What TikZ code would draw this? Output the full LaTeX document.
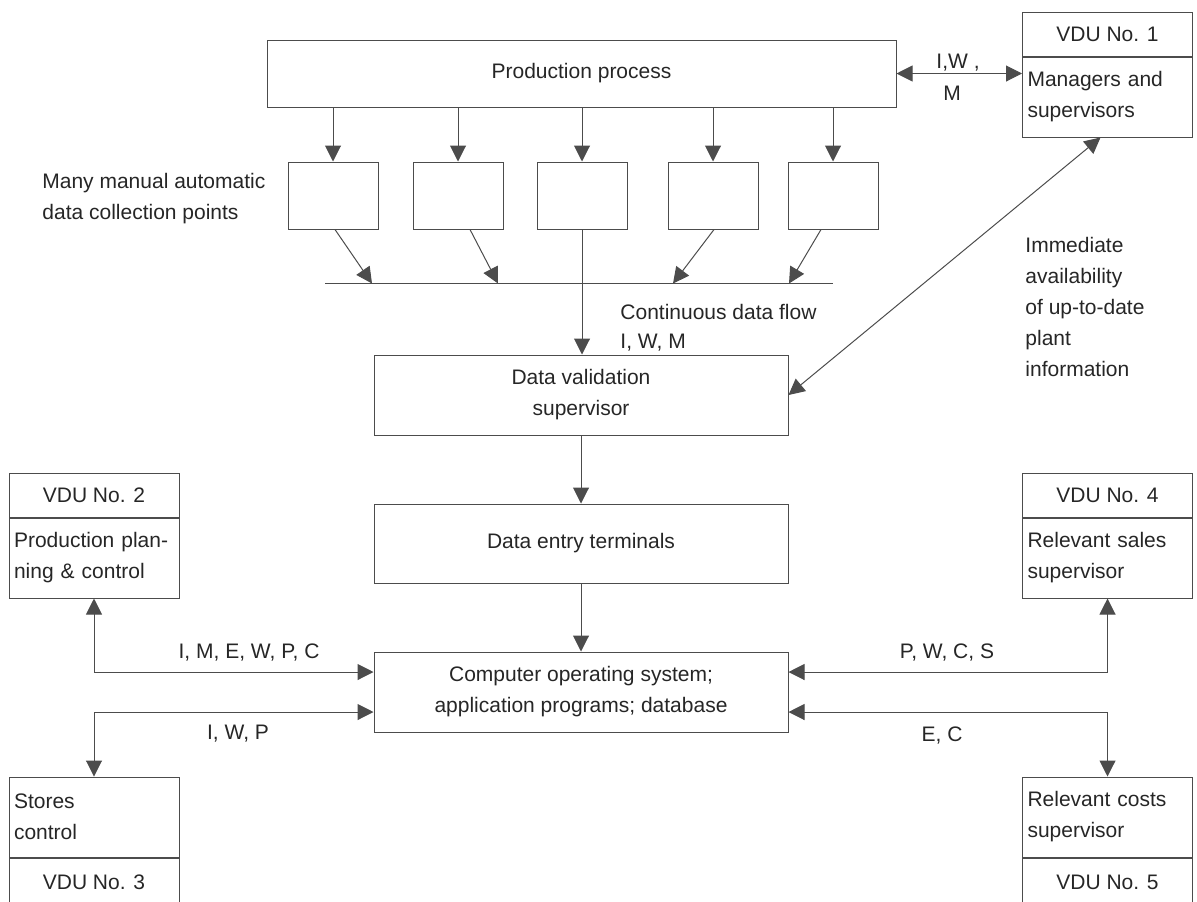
\documentclass[tikz,border=0pt]{standalone}
\usepackage{fontspec}
\setmainfont{Liberation Sans}
\usetikzlibrary{
    arrows.meta,        % frecce piene
    positioning         % nodi uno sotto l'altro
}

\tikzset{
    box/.style={draw=black!70, line width=0.5pt, inner sep=0pt, align=center},
    smallbox/.style={box, minimum width=45pt, minimum height=33.5pt},
    widebox/.style={box, minimum width=207pt, minimum height=40pt},
    vduhead/.style={box, minimum width=85pt, minimum height=22pt},
    vdubody/.style={box, text width=80pt, inner xsep=2.5pt, minimum height=40pt, align=left},
    lbl/.style={inner sep=0pt},
    line/.style={draw=black!70, line width=0.5pt},
    link/.style={line, -{Triangle[length=8pt,width=8pt]}},
    link2/.style={line, {Triangle[length=8pt,width=8pt]}-{Triangle[length=8pt,width=8pt]}}
}

\begin{document}
\begin{tikzpicture}[x=0.5pt, y=-0.5pt,
    every node/.style={font=\fontsize{10.5}{15.5}\selectfont, text=black!85}]

        \useasboundingbox (0,0) rectangle (1197,901);

        % Processo di produzione
        \node[box, minimum width=314.5pt, minimum height=33.5pt] (prod) at (581.5,73.5) {Production process};

        % Punti di raccolta dati
        \foreach \n/\x in {1/333, 2/458, 3/582, 4/713, 5/833}
            \node[smallbox] (c\n) at (\x,195.5) {};
        \node[lbl, anchor=west, align=left] (many) at (42,199) {Many manual automatic\\data collection points};

        \coordinate (busL) at (325,283);
        \coordinate (busR) at (833,283);

        % Colonna centrale
        \node[widebox] (valid) at (581,395) {Data validation\\supervisor};
        \node[widebox, minimum height=39.5pt] (entry) at (581,543.5) {Data entry terminals};
        \node[widebox] (comp) at (581,692) {Computer operating system;\\application programs; database};

        % Terminali VDU
        \node[vduhead] (vdu1h) at (1107.5,34) {VDU No. 1};
        \node[vdubody, below=0pt of vdu1h] (vdu1b) {Managers and\\supervisors};

        \node[vduhead] (vdu2h) at (94,495) {VDU No. 2};
        \node[vdubody, below=0pt of vdu2h] (vdu2b) {Production plan-\\ning \& control};

        \node[vdubody] (vdu3b) at (94,817) {Stores\\control};
        \node[vduhead, below=0pt of vdu3b, minimum height=24pt] (vdu3f) {VDU No. 3};

        \node[vduhead] (vdu4h) at (1107.5,495) {VDU No. 4};
        \node[vdubody, below=0pt of vdu4h] (vdu4b) {Relevant sales\\supervisor};

        \node[vdubody] (vdu5b) at (1107.5,817) {Relevant costs\\supervisor};
        \node[vduhead, below=0pt of vdu5b, minimum height=24pt] (vdu5f) {VDU No. 5};

        % Etichette
        \node[lbl] (iw) at (958,63) {I,W ,};
        \node[lbl] (m) at (952,93) {M};
        \node[lbl, anchor=west] (flow) at (620,312) {Continuous data flow};
        \node[lbl, anchor=west] (flowc) at (620,343) {I, W, M};
        \node[lbl, anchor=west, align=left] (info) at (1025,307) {Immediate\\availability\\of up-to-date\\plant\\information};
        \node[lbl] (l2) at (249,652) {I, M, E, W, P, C};
        \node[lbl] (l3) at (238,734) {I, W, P};
        \node[lbl] (l4) at (947,652) {P, W, C, S};
        \node[lbl] (l5) at (942,735) {E, C};

        % Frecce
        \draw[link2] (prod.east) -- (prod.east -| vdu1b.west);
        \foreach \n in {1,...,5}
            \draw[link] (c\n.north |- prod.south) -- (c\n.north);
        \draw[link] ([xshift=1pt]c1.south) -- ++(37,54);
        \draw[link] ([xshift=6pt]c2.south) -- ++(28,54);
        \draw[link] ([xshift=0.5pt]c4.south) -- ++(-41,54);
        \draw[link] ([xshift=-6pt]c5.south) -- ++(-32,54);
        \draw[line] (busL) -- (busR);
        \draw[link] (c3.south) -- (c3.south |- valid.north);
        \draw[link2] ([xshift=-3.5pt]vdu1b.south) -- (valid.east);
        \draw[link] (valid.south) -- (entry.north);
        \draw[link] (entry.south) -- (comp.north);
        \draw[link2] (vdu2b.south) |- ([yshift=10pt]comp.west);
        \draw[link2] (vdu3b.north) |- ([yshift=-10pt]comp.west);
        \draw[link2] (vdu4b.south) |- ([yshift=10pt]comp.east);
        \draw[link2] (vdu5b.north) |- ([yshift=-10pt]comp.east);

    \end{tikzpicture}
\end{document}
